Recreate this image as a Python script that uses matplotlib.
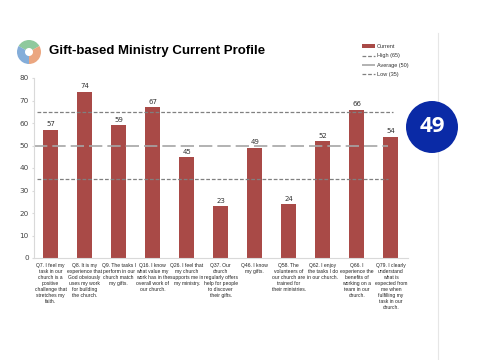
import numpy as np
import matplotlib
matplotlib.use('Agg')
import matplotlib.pyplot as plt
from matplotlib.patches import Wedge, Circle

questions = ["Q7. I feel my\ntask in our\nchurch is a\npositive\nchallenge that\nstretches my\nfaith.",
             "Q8. It is my\nexperience that\nGod obviously\nuses my work\nfor building\nthe church.",
             "Q9. The tasks I\nperform in our\nchurch match\nmy gifts.",
             "Q16. I know\nwhat value my\nwork has in the\noverall work of\nour church.",
             "Q26. I feel that\nmy church\nsupports me in\nmy ministry.",
             "Q37. Our\nchurch\nregularly offers\nhelp for people\nto discover\ntheir gifts.",
             "Q46. I know\nmy gifts.",
             "Q58. The\nvolunteers of\nour church are\ntrained for\ntheir ministries.",
             "Q62. I enjoy\nthe tasks I do\nin our church.",
             "Q66. I\nexperience the\nbenefits of\nworking on a\nteam in our\nchurch.",
             "Q79. I clearly\nunderstand\nwhat is\nexpected from\nme when\nfulfilling my\ntask in our\nchurch."]
current = [57, 74, 59, 67, 45, 23, 49, 24, 52, 66, 54]
high = 65
average = 50
low = 35
yticks = [0, 10, 20, 30, 40, 50, 60, 70, 80]

W, H = 480, 360
fig = plt.figure(figsize=(4.8, 3.6), dpi=100)

# background layer in pixel coords, y pointing down
bg = fig.add_axes([0, 0, 1, 1])
bg.set_xlim(0, W)
bg.set_ylim(H, 0)
bg.axis('off')
bg.plot([438, 438], [33, 360], color='#e6e6e6', lw=0.8, zorder=1)

# logo (y axis is flipped here, so angles run clockwise on screen)
for start, end, col in [(210, 330, '#7cc08c'), (90, 210, '#6f9fd3'), (330, 450, '#e8976a')]:
    bg.add_patch(Wedge((29, 52), 12, start, end, width=8, color=col, alpha=0.85, lw=0))
bg.text(49, 51, "Gift-based Ministry Current Profile", fontsize=9.5, fontweight='bold',
        family='Liberation Sans', va='center', ha='left', color='black')

# value badge
bg.add_patch(Circle((432, 127), 26, color='#0a2aa6', lw=0, zorder=3))
bg.text(432, 127, "49", fontsize=16, fontweight='bold', color='white', ha='center', va='center',
        family='Open Sans', zorder=4)

ax = fig.add_axes([33.5 / W, 1 - 258 / H, 374.5 / W, 180 / H])
ax.patch.set_alpha(0)
x = np.arange(len(current))
bars = ax.bar(x, current, width=0.44, color='#a94a47', label='Current')
for xi, v in zip(x, current):
    ax.text(xi, v + 1, str(v), ha='center', va='bottom', fontsize=5, color='#333333')

l1, = ax.plot([-0.4, 10.05], [high, high], color='#808080', lw=0.9, ls=(0, (3, 1.5)), label='High (65)')
l2, = ax.plot([-0.5, 9.9], [average, average], color='#a6a6a6', lw=1.2, ls=(0, (8, 3)), label='Average (50)')
l3, = ax.plot([-0.4, 9.9], [low, low], color='#808080', lw=0.9, ls=(0, (3, 1.5)), label='Low (35)')

ax.set_xlim(-0.5, 10.5)
ax.set_ylim(0, 80)
ax.set_yticks(yticks)
ax.set_xticks(x)
ax.set_xticklabels(questions, fontsize=3.65, color='#222222', linespacing=1.24, family='Liberation Sans')
ax.tick_params(axis='x', length=0, pad=3.5)
ax.tick_params(axis='y', labelsize=5.2, length=1.5, pad=2, color='#d9d9d9', labelcolor='#444444')
for s in ['top', 'right']:
    ax.spines[s].set_visible(False)
ax.spines['left'].set_color('#d9d9d9')
ax.spines['bottom'].set_color('#d9d9d9')

ax.legend(handles=[bars, l1, l2, l3], loc='upper left', bbox_to_anchor=(362 / W, 1 - 44 / H),
          bbox_transform=fig.transFigure, frameon=False,
          prop={'family': 'Liberation Sans', 'size': 4.0}, labelspacing=0.8, handlelength=2.4,
          handletextpad=0.3, borderpad=0, borderaxespad=0, labelcolor='#333333')

fig.savefig('out.png', dpi=100)
